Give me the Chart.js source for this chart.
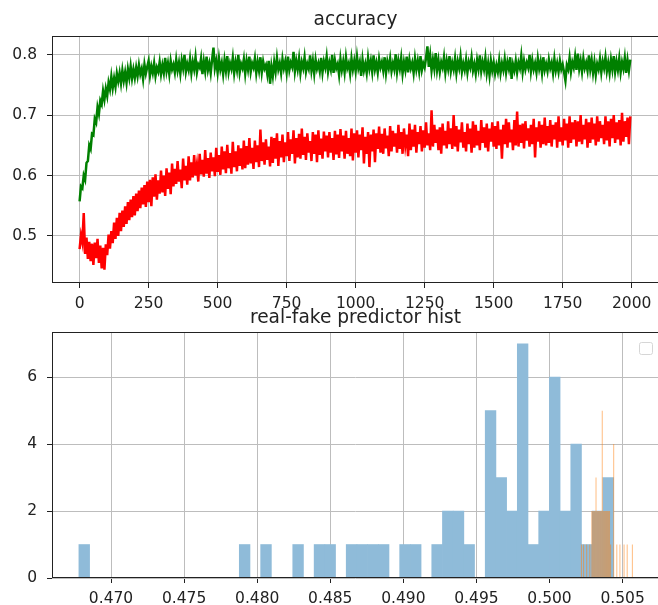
<!DOCTYPE html>
<html><head><meta charset="utf-8">
<script src="https://cdn.jsdelivr.net/npm/chart.js@4"></script>
<style>
html,body{margin:0;padding:0;background:#fff;overflow:hidden;width:658px;height:605px;}
#wrap{position:relative;width:658px;height:605px;overflow:hidden;background:#fff;}
canvas{position:absolute;left:0;}
#c1{top:0;}
#c2{top:296px;}
</style></head><body>
<div id="wrap"><canvas id="c1" width="670" height="312"></canvas><canvas id="c2" width="670" height="309"></canvas></div>
<script>
// ---------- data: accuracy (one sample every 5 steps) ----------
const sampleEvery = 5;
const greenAcc = [
0.557,0.582,0.579,0.600,0.593,0.621,0.624,0.650,0.644,0.669,
0.667,0.694,0.688,0.713,0.702,0.724,0.718,0.740,0.726,0.744,
0.732,0.754,0.743,0.764,0.745,0.761,0.747,0.769,0.756,0.770,
0.753,0.774,0.757,0.771,0.754,0.776,0.762,0.781,0.761,0.776,
0.762,0.779,0.765,0.783,0.768,0.777,0.760,0.784,0.769,0.780,
0.790,0.766,0.781,0.770,0.786,0.765,0.779,0.772,0.788,0.768,
0.783,0.770,0.795,0.773,0.786,0.768,0.790,0.776,0.784,0.771,
0.792,0.774,0.787,0.769,0.791,0.778,0.800,0.772,0.785,0.775,
0.793,0.770,0.788,0.776,0.796,0.771,0.784,0.779,0.794,0.768,
0.789,0.773,0.797,0.775,0.786,0.770,0.792,0.812,0.778,0.790,
0.771,0.794,0.776,0.787,0.768,0.791,0.774,0.798,0.772,0.786,
0.777,0.795,0.770,0.788,0.775,0.800,0.771,0.785,0.778,0.793,
0.769,0.790,0.776,0.797,0.772,0.786,0.779,0.794,0.770,0.788,
0.774,0.796,0.771,0.789,0.777,0.783,0.768,0.790,0.752,0.781,
0.765,0.788,0.772,0.795,0.776,0.786,0.770,0.793,0.778,0.789,
0.771,0.797,0.775,0.787,0.780,0.805,0.773,0.790,0.776,0.794,
0.770,0.788,0.778,0.796,0.772,0.785,0.777,0.799,0.774,0.790,
0.769,0.792,0.777,0.786,0.773,0.795,0.771,0.789,0.779,0.797,
0.772,0.787,0.776,0.800,0.770,0.791,0.778,0.785,0.767,0.793,
0.775,0.789,0.771,0.796,0.778,0.786,0.769,0.794,0.776,0.790,
0.773,0.797,0.778,0.788,0.765,0.792,0.774,0.785,0.770,0.795,
0.777,0.790,0.772,0.799,0.776,0.787,0.771,0.793,0.779,0.788,
0.774,0.796,0.770,0.789,0.778,0.794,0.773,0.786,0.776,0.801,
0.772,0.790,0.777,0.795,0.769,0.788,0.775,0.797,0.771,0.792,
0.778,0.787,0.770,0.794,0.776,0.790,0.773,0.798,0.775,0.786,
0.779,0.795,0.814,0.780,0.799,0.774,0.792,0.777,0.803,0.775,
0.791,0.772,0.788,0.779,0.796,0.771,0.790,0.777,0.798,0.773,
0.787,0.776,0.794,0.770,0.789,0.778,0.797,0.772,0.786,0.775,
0.792,0.771,0.788,0.779,0.796,0.774,0.785,0.769,0.791,0.777,
0.799,0.773,0.788,0.776,0.795,0.770,0.786,0.766,0.790,0.774,
0.787,0.769,0.783,0.772,0.791,0.770,0.786,0.775,0.793,0.771,
0.788,0.777,0.796,0.760,0.784,0.774,0.790,0.771,0.787,0.778,
0.798,0.772,0.790,0.776,0.787,0.779,0.800,0.773,0.791,0.776,
0.786,0.771,0.794,0.777,0.789,0.770,0.796,0.775,0.785,0.773,
0.792,0.778,0.787,0.770,0.793,0.774,0.786,0.772,0.790,0.776,
0.784,0.771,0.757,0.783,0.776,0.795,0.772,0.788,0.779,0.797,
0.775,0.802,0.777,0.790,0.772,0.794,0.778,0.787,0.774,0.799,
0.776,0.791,0.770,0.788,0.767,0.785,0.776,0.793,0.771,0.789,
0.778,0.796,0.773,0.787,0.770,0.792,0.776,0.798,0.772,0.789,
0.775,0.794,0.771,0.788,0.777,0.795,0.770,0.791,0.774,0.792
];
const redAcc = [
0.478,0.501,0.489,0.538,0.470,0.497,0.462,0.490,0.458,0.487,
0.452,0.489,0.463,0.495,0.455,0.484,0.446,0.480,0.444,0.486,
0.468,0.502,0.479,0.508,0.488,0.522,0.495,0.530,0.500,0.538,
0.508,0.542,0.515,0.549,0.520,0.556,0.526,0.560,0.531,0.566,
0.534,0.570,0.541,0.575,0.546,0.580,0.552,0.584,0.548,0.590,
0.556,0.593,0.549,0.597,0.565,0.602,0.560,0.592,0.570,0.608,
0.572,0.600,0.566,0.612,0.578,0.605,0.569,0.620,0.582,0.611,
0.586,0.624,0.590,0.610,0.579,0.628,0.592,0.616,0.585,0.632,
0.592,0.622,0.597,0.634,0.600,0.618,0.590,0.636,0.602,0.626,
0.598,0.642,0.603,0.629,0.596,0.638,0.607,0.630,0.599,0.646,
0.606,0.634,0.601,0.648,0.610,0.640,0.604,0.651,0.612,0.637,
0.603,0.656,0.614,0.640,0.607,0.650,0.616,0.645,0.610,0.658,
0.612,0.649,0.618,0.662,0.620,0.646,0.611,0.658,0.622,0.650,
0.614,0.676,0.624,0.655,0.618,0.660,0.626,0.648,0.615,0.664,
0.621,0.662,0.628,0.670,0.616,0.657,0.630,0.668,0.622,0.655,
0.632,0.672,0.624,0.660,0.636,0.675,0.620,0.662,0.630,0.669,
0.628,0.678,0.634,0.664,0.626,0.670,0.638,0.657,0.624,0.672,
0.636,0.668,0.622,0.675,0.634,0.661,0.628,0.673,0.640,0.666,
0.630,0.672,0.638,0.662,0.626,0.674,0.635,0.668,0.629,0.677,
0.640,0.666,0.628,0.674,0.636,0.662,0.632,0.678,0.625,0.670,
0.638,0.675,0.630,0.668,0.642,0.680,0.620,0.664,0.636,0.672,
0.614,0.668,0.640,0.676,0.622,0.670,0.644,0.681,0.638,0.669,
0.636,0.678,0.645,0.666,0.632,0.682,0.640,0.674,0.648,0.670,
0.638,0.684,0.644,0.672,0.636,0.678,0.650,0.668,0.632,0.686,
0.642,0.676,0.648,0.684,0.638,0.672,0.652,0.682,0.640,0.675,
0.646,0.688,0.650,0.670,0.642,0.708,0.648,0.684,0.654,0.676,
0.642,0.680,0.636,0.686,0.650,0.674,0.645,0.690,0.652,0.678,
0.644,0.700,0.648,0.682,0.640,0.676,0.655,0.688,0.646,0.672,
0.640,0.686,0.652,0.678,0.638,0.690,0.646,0.684,0.650,0.674,
0.642,0.692,0.654,0.680,0.646,0.686,0.640,0.678,0.656,0.688,
0.648,0.682,0.644,0.690,0.650,0.676,0.628,0.684,0.652,0.694,
0.646,0.688,0.655,0.676,0.642,0.692,0.650,0.706,0.648,0.684,
0.654,0.686,0.645,0.690,0.658,0.678,0.648,0.684,0.652,0.694,
0.630,0.680,0.656,0.690,0.646,0.684,0.652,0.696,0.650,0.682,
0.654,0.692,0.648,0.684,0.660,0.688,0.646,0.698,0.656,0.680,
0.650,0.694,0.658,0.686,0.646,0.698,0.654,0.688,0.660,0.692,
0.648,0.690,0.656,0.700,0.652,0.684,0.660,0.694,0.646,0.688,
0.654,0.696,0.660,0.686,0.650,0.698,0.656,0.690,0.662,0.684,
0.652,0.698,0.658,0.690,0.648,0.694,0.662,0.700,0.654,0.688,
0.660,0.692,0.650,0.704,0.656,0.690,0.664,0.696,0.652,0.698
];
const accXTicks = [0,250,500,750,1000,1250,1500,1750,2000];
const accYTicks = [0.5,0.6,0.7,0.8];

// ---------- data: real-fake predictor histogram (50 bins each) ----------
const blueBinStart = 0.46780, blueBinWidth = 0.0007316;
const blueCounts = [
1,0,0,0,0,0,0,0,0,0,
0,0,0,0,0,1,0,1,0,0,
1,0,1,1,0,1,1,1,1,0,
1,1,0,1,2,2,1,0,5,3,
2,7,1,2,6,2,4,1,2,3
];
const orangeBinStart = 0.50215, orangeBinWidth = 0.0000711;
const orangeCounts = [
1,0,1,0,0,1,0,0,1,0,
2,2,2,2,3,2,2,2,2,2,
5,2,2,2,2,2,2,2,1,0,
0,4,0,0,1,0,0,1,0,0,
0,1,0,0,1,0,0,0,0,1
];
const histXTicks = [0.470,0.475,0.480,0.485,0.490,0.495,0.500,0.505];
const histYTicks = [0,2,4,6];

// ---------- styling ----------
Chart.defaults.font.family = "'DejaVu Sans', sans-serif";
Chart.defaults.font.size = 15.5;
Chart.defaults.color = '#222';

const framePlugin = {
  id: 'frame',
  afterDraw(chart, args, opts) {
    const {ctx, chartArea: a} = chart;
    ctx.save();
    ctx.strokeStyle = '#222';
    ctx.lineWidth = 1;
    ctx.strokeRect(Math.round(a.left) + 0.5, Math.round(a.top) + 0.5,
                   Math.round(a.right - a.left) - 1, Math.round(a.bottom - a.top) - 1);
    if (opts.title) {
      ctx.fillStyle = '#222';
      ctx.font = "18.6px 'DejaVu Sans', sans-serif";
      ctx.textAlign = 'center';
      ctx.textBaseline = 'alphabetic';
      ctx.fillText(opts.title, (a.left + a.right) / 2, a.top - opts.titleGap);
    }
    if (opts.emptyLegend) {
      const x = a.right - 19.5, y = a.top + 10.5, w = 13, h = 12, r = 2;
      ctx.beginPath();
      ctx.moveTo(x + r, y); ctx.lineTo(x + w - r, y); ctx.arcTo(x + w, y, x + w, y + r, r);
      ctx.lineTo(x + w, y + h - r); ctx.arcTo(x + w, y + h, x + w - r, y + h, r);
      ctx.lineTo(x + r, y + h); ctx.arcTo(x, y + h, x, y + h - r, r);
      ctx.lineTo(x, y + r); ctx.arcTo(x, y, x + r, y, r);
      ctx.closePath();
      ctx.fillStyle = 'rgba(255,255,255,0.8)';
      ctx.fill();
      ctx.strokeStyle = '#d6d6d6';
      ctx.stroke();
    }
    ctx.restore();
  }
};

const gridStyle = {color: '#bdbdbd', lineWidth: 1, tickLength: 5, tickColor: '#222', drawTicks: true};

function axisTicks(list) {
  return axis => { axis.ticks = list.map(v => ({value: v})); };
}

// ---------- top: accuracy ----------
const toPoints = arr => arr.map((v, i) => ({x: i * sampleEvery, y: v}));
new Chart(document.getElementById('c1'), {
  type: 'line',
  data: {
    datasets: [
      {data: toPoints(greenAcc), borderColor: '#008000', borderWidth: 2.5, pointRadius: 0, tension: 0, fill: false},
      {data: toPoints(redAcc), borderColor: '#ff0000', borderWidth: 2.5, pointRadius: 0, tension: 0, fill: false}
    ]
  },
  options: {
    responsive: false, animation: false, devicePixelRatio: 1,
    layout: {padding: {top: 36, right: 11, left: 0, bottom: 0}},
    plugins: {legend: {display: false}, tooltip: {enabled: false},
              frame: {title: 'accuracy', titleGap: 11}},
    scales: {
      x: {type: 'linear', min: -99.95, max: 2098.95,
          grid: gridStyle, border: {display: false},
          afterBuildTicks: axisTicks(accXTicks),
          afterFit: s => { s.height = 29; },
          ticks: {autoSkip: false, maxRotation: 0, padding: 7, callback: v => String(v)}},
      y: {type: 'linear', min: 0.4219, max: 0.8312,
          grid: gridStyle, border: {display: false},
          afterBuildTicks: axisTicks(accYTicks),
          afterFit: s => { s.width = 52; },
          ticks: {padding: 10, callback: v => v.toFixed(1)}}
    }
  },
  plugins: [framePlugin]
});

// ---------- bottom: histogram ----------
const histMin = 0.46596, histMax = 0.50749;
new Chart(document.getElementById('c2'), {
  type: 'bar',
  data: {
    datasets: [
      {data: blueCounts.map((c, i) => ({x: blueBinStart + (i + 0.5) * blueBinWidth, y: c})),
       backgroundColor: '#8fbbd9', borderWidth: 0, xAxisID: 'x', order: 2,
       barPercentage: 1, categoryPercentage: 1, grouped: false},
      {data: orangeCounts.map((c, i) => ({x: orangeBinStart + (i + 0.5) * orangeBinWidth, y: c})),
       backgroundColor: 'rgba(255,127,14,0.5)', borderWidth: 0, xAxisID: 'x2', inflateAmount: 0, order: 1,
       barPercentage: 1, categoryPercentage: 1, grouped: false}
    ]
  },
  options: {
    responsive: false, animation: false, devicePixelRatio: 1,
    layout: {padding: {top: 36, right: 11, left: 0, bottom: 0}},
    plugins: {legend: {display: false}, tooltip: {enabled: false},
              frame: {title: 'real-fake predictor hist', titleGap: 9.5, emptyLegend: true}},
    scales: {
      x: {type: 'linear', min: histMin, max: histMax, offset: false,
          grid: Object.assign({offset: false}, gridStyle), border: {display: false},
          afterBuildTicks: axisTicks(histXTicks),
          afterFit: s => { s.height = 27; },
          ticks: {autoSkip: false, maxRotation: 0, padding: 7, callback: v => v.toFixed(3)}},
      x2: {type: 'linear', min: histMin, max: histMax, offset: false, display: false,
           grid: {offset: false}},
      y: {type: 'linear', min: 0, max: 7.35,
          grid: gridStyle, border: {display: false},
          afterBuildTicks: axisTicks(histYTicks),
          afterFit: s => { s.width = 52; },
          ticks: {padding: 10, callback: v => String(v)}}
    }
  },
  plugins: [framePlugin]
});
</script>
</body></html>
